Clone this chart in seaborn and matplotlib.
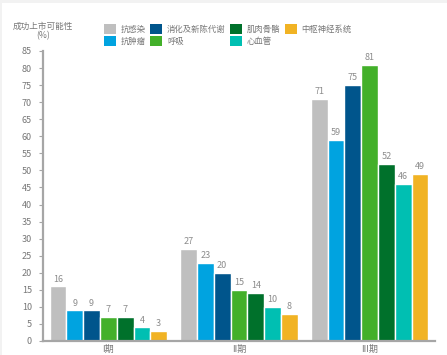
import matplotlib
matplotlib.use("Agg")
import matplotlib.pyplot as plt
import seaborn as sns
import pandas as pd
from matplotlib.patches import Rectangle, Patch

phases = ["I期", "II期", "III期"]
areas = ["抗感染", "抗肿瘤", "消化及新陈代谢", "呼吸", "肌肉骨骼", "心血管", "中枢神经系统"]
values = {
    "抗感染": [16, 27, 71],
    "抗肿瘤": [9, 23, 59],
    "消化及新陈代谢": [9, 20, 75],
    "呼吸": [7, 15, 81],
    "肌肉骨骼": [7, 14, 52],
    "心血管": [4, 10, 46],
    "中枢神经系统": [3, 8, 49],
}
colors = ["#bfbfbf", "#00a3e0", "#00558c", "#43b02a", "#00712b", "#00bfb2", "#f1b324"]
yticks = list(range(0, 90, 5))

rows = []
for a in areas:
    for p, v in zip(phases, values[a]):
        rows.append({"phase": p, "area": a, "value": v})
df = pd.DataFrame(rows)

sns.set_theme(style="white")
plt.rcParams["font.family"] = ["Noto Sans CJK SC", "DejaVu Sans"]

fig = plt.figure(figsize=(4.47, 3.55), dpi=100, facecolor="#f2f2f2")
fig.patches.append(Rectangle((2 / 447, 0), 1, 1 - 3 / 355, transform=fig.transFigure,
                             facecolor="white", edgecolor="none", zorder=-10))
ax = fig.add_axes([43 / 447, 1 - 341 / 355, 392 / 447, 290 / 355])
ax.set_facecolor("none")
ax.set_zorder(2)

sns.barplot(data=df, x="phase", y="value", hue="area", hue_order=areas, order=phases,
            palette=colors, width=0.9, gap=0, ax=ax, legend=False, saturation=1,
            errorbar=None)

tc = "#8c8c8c"
for cont in ax.containers:
    ax.bar_label(cont, fmt="%d", padding=2, fontsize=6.5, color=tc)

ax.set_xlim(-0.5, 2.5)
ax.set_ylim(0, 85)
ax.set_yticks(yticks)
ax.set_xlabel("")
ax.set_ylabel("")
ax.tick_params(axis="y", labelsize=6.5, colors="#a6a6a6", length=3, width=0.8, direction="out", left=True, pad=5)
ax.tick_params(axis="x", labelsize=6.5, length=0, pad=3)
for lab in ax.get_yticklabels() + ax.get_xticklabels():
    lab.set_color("#777777")
for s in ["top", "right"]:
    ax.spines[s].set_visible(False)
for s in ["left", "bottom"]:
    ax.spines[s].set_color("#a6a6a6")
    ax.spines[s].set_linewidth(1.6)

fig.text(43 / 447, 1 - 31 / 355, "成功上市可能性\n(%)", ha="center", va="center",
         fontsize=6.2, color="#777777", linespacing=1.1)

handles = [Patch(facecolor=c, edgecolor="none") for c in colors]
leg = fig.legend(handles, areas, ncol=4, loc="upper left",
                 bbox_to_anchor=(104 / 447, 1 - 24 / 355), frameon=False,
                 fontsize=6.0, handlelength=1.4, handleheight=1.4, handletextpad=0.6,
                 columnspacing=0.55, labelspacing=0.3, borderaxespad=0, borderpad=0)
for t in leg.get_texts():
    t.set_color("#777777")

fig.savefig("out.png", dpi=100, facecolor=fig.get_facecolor())
